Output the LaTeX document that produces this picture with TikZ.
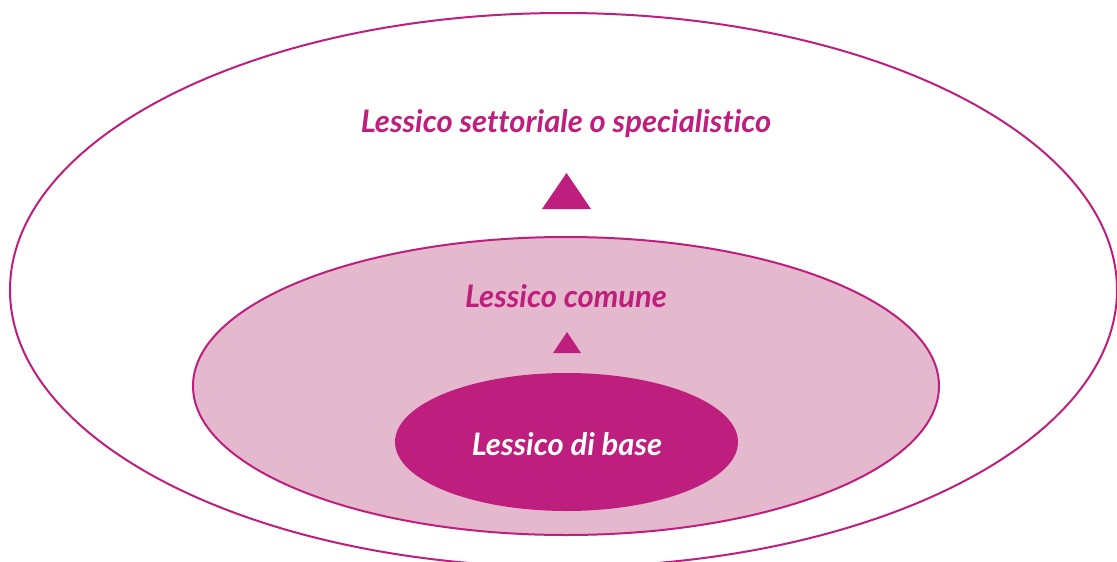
\documentclass[tikz,border=0pt]{standalone}
\usepackage{fontspec}
\setmainfont{Lato}[Ligatures=NoCommon]
\definecolor{mag}{RGB}{190,30,125}
\definecolor{lightmag}{RGB}{229,185,205}
\begin{document}
\begin{tikzpicture}[x=1pt,y=-1pt,
  ring/.style={draw=mag,line width=2pt},
  lbl/.style={anchor=base,inner sep=0pt,font=\fontsize{31}{34}\selectfont\bfseries\itshape},
  tri/.style={fill=mag}]
\useasboundingbox (0,0) rectangle (1117,562);
\begin{scope}
\clip (0,0) rectangle (1117,562);
\draw[ring] (563.5,290) ellipse [x radius=553.5,y radius=277];
\end{scope}
\filldraw[ring,fill=lightmag] (566,386) ellipse [x radius=373,y radius=149];
\fill[mag] (566.5,442) ellipse [x radius=171.5,y radius=69];
\node[lbl,text=mag] (sett) at (566,132) {Lessico settoriale o specialistico};
\node[lbl,text=mag] (com) at (566,307) {Lessico comune};
\node[lbl,text=white] (base) at (567,455) {Lessico di base};
\fill[tri] (542,209) -- (566.5,173) -- (591,209) -- cycle;
\fill[tri] (553,353) -- (567,332) -- (581,353) -- cycle;
\end{tikzpicture}
\end{document}
